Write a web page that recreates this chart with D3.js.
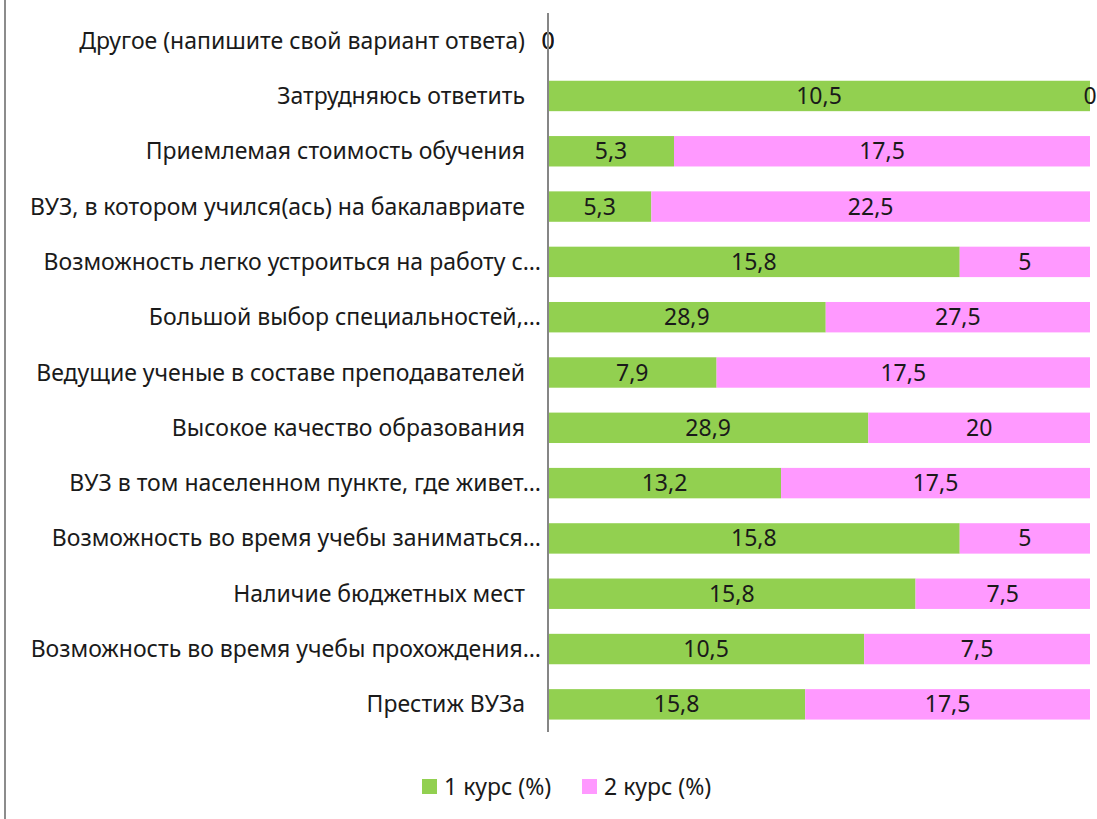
<!DOCTYPE html>
<html>
<head>
	<meta charset="utf-8">
	<script src="https://d3js.org/d3.v7.min.js"></script>
	<style type="text/css">
		body { margin: 0; background: #fff; }
		text { font-family: "Noto Sans", sans-serif; fill: #1a1a1a; }
		.lbl { font-size: 23px; }
		.val { font-size: 23px; }
		.leg { font-size: 23px; }
	</style>
</head>
<body>
	<script type="text/javascript">
		// data, top to bottom
		let categories = [
			"Другое (напишите свой вариант ответа)",
			"Затрудняюсь ответить",
			"Приемлемая стоимость обучения",
			"ВУЗ, в котором учился(ась) на бакалавриате",
			"Возможность легко устроиться на работу с…",
			"Большой выбор специальностей,…",
			"Ведущие ученые в составе преподавателей",
			"Высокое качество образования",
			"ВУЗ в том населенном пункте, где живет…",
			"Возможность во время учебы заниматься…",
			"Наличие бюджетных мест",
			"Возможность во время учебы прохождения…",
			"Престиж ВУЗа"
		],
			kurs1 = [0, 10.5, 5.3, 5.3, 15.8, 28.9, 7.9, 28.9, 13.2, 15.8, 15.8, 10.5, 15.8],
			kurs2 = [0, 0, 17.5, 22.5, 5, 27.5, 17.5, 20, 17.5, 5, 7.5, 7.5, 17.5],
			seriesNames = ["1 курс (%)", "2 курс (%)"],
			colors = ["#92d050", "#ff99ff"];
	</script>
	<script type="text/javascript">
		let w = 1097,
			h = 819;

		let svg = d3.select("body")
			.append("svg")
			.attr("width", w)
			.attr("height", h);

		// frame line on the left
		svg.append("line")
			.attr("x1", 5).attr("x2", 5)
			.attr("y1", 0).attr("y2", h)
			.attr("stroke", "#8c8c8c")
			.attr("stroke-width", 2);

		let x = d3.scaleLinear().domain([0, 1]).range([548, 1090]);
		let y = d3.scaleBand()
			.domain(categories)
			.range([13, 732])
			.paddingInner(0.45)
			.paddingOuter(0.225);

		// share of each series in a row
		let rows = categories.map((c, i) => {
			let total = kurs1[i] + kurs2[i];
			let p1 = total ? kurs1[i] / total : 0;
			return [
				{ cat: c, s: 0, v: kurs1[i], a: 0, b: p1 },
				{ cat: c, s: 1, v: kurs2[i], a: p1, b: total ? 1 : 0 }
			];
		});
		let segs = rows.flat();

		svg.selectAll("rect.bar").data(segs).enter()
			.append("rect")
			.attr("class", "bar")
			.attr("x", d => x(d.a))
			.attr("y", d => y(d.cat))
			.attr("width", d => x(d.b) - x(d.a))
			.attr("height", y.bandwidth())
			.attr("fill", d => colors[d.s]);

		svg.selectAll("text.val").data(segs).enter()
			.append("text")
			.attr("class", "val")
			.attr("x", d => (x(d.a) + x(d.b)) / 2)
			.attr("y", d => y(d.cat) + y.bandwidth() / 2)
			.attr("dy", "0.35em")
			.attr("text-anchor", "middle")
			.text(d => String(d.v).replace(".", ","));

		// axis line
		svg.append("line")
			.attr("x1", x(0)).attr("x2", x(0))
			.attr("y1", 13).attr("y2", 732)
			.attr("stroke", "#868686")
			.attr("stroke-width", 2);

		svg.selectAll("text.lbl").data(categories).enter()
			.append("text")
			.attr("class", "lbl")
			.attr("x", d => d.endsWith("…") ? 541 : 525)
			.attr("y", d => y(d) + y.bandwidth() / 2)
			.attr("dy", "0.35em")
			.attr("text-anchor", "end")
			.text(d => d);

		// legend
		let leg = svg.selectAll("g.leg").data(seriesNames).enter()
			.append("g")
			.attr("class", "leg")
			.attr("transform", (d, i) => "translate(" + (422 + i * 160) + ",779)");
		leg.append("rect")
			.attr("width", 15).attr("height", 15)
			.attr("fill", (d, i) => colors[i]);
		leg.append("text")
			.attr("x", 22)
			.attr("y", 7.5)
			.attr("dy", "0.35em")
			.text(d => d);
	</script>
</body>
</html>
